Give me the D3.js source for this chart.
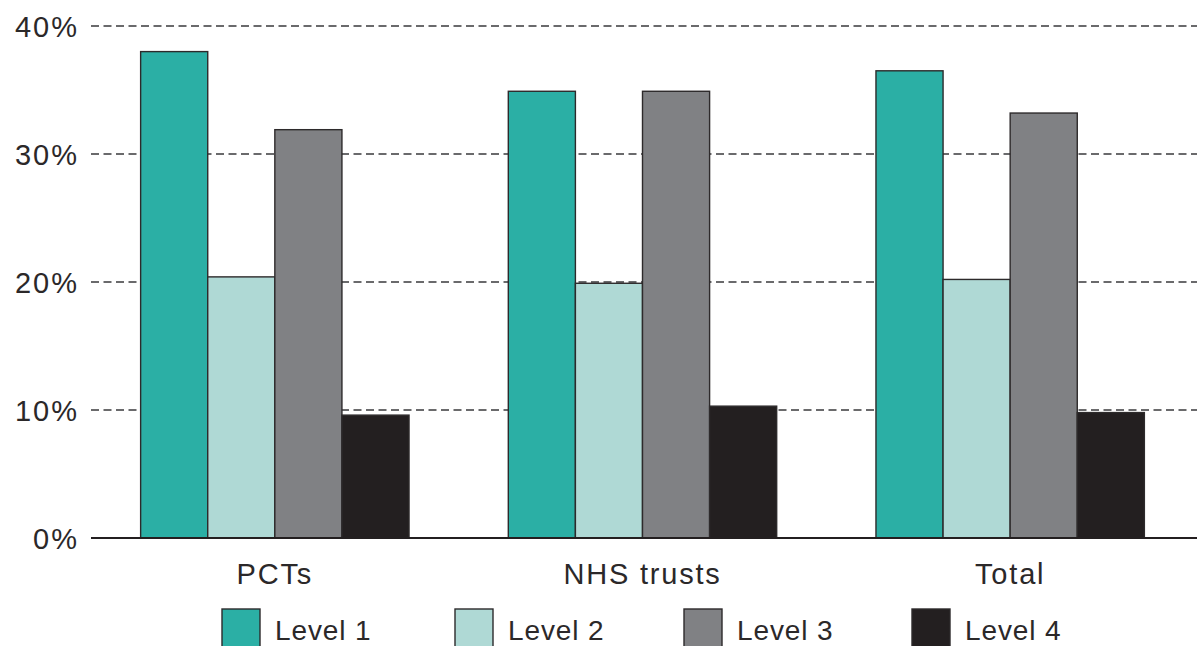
<!DOCTYPE html>
<html>
<head>
<meta charset="utf-8">
<script src="https://cdn.jsdelivr.net/npm/d3@7"></script>
<style>
  html, body { margin: 0; padding: 0; background: #ffffff; }
  svg { display: block; }
  text { font-family: "Liberation Sans", Arial, Helvetica, sans-serif; fill: #2b2829; }
</style>
</head>
<body>
<svg id="chart" width="1202" height="646"></svg>
<script>
// Share of staff by level, per organisation type (percent)
const categories = ["PCTs", "NHS trusts", "Total"];
const levels = ["Level 1", "Level 2", "Level 3", "Level 4"];
const level1 = [38.0, 34.9, 36.5];
const level2 = [20.4, 19.9, 20.2];
const level3 = [31.9, 34.9, 33.2];
const level4 = [9.6, 10.3, 9.8];
const yTicks = [0, 10, 20, 30, 40];
const colors = ["#2bafa5", "#afd9d5", "#808184", "#231f20"];

const series = [level1, level2, level3, level4];

const svg = d3.select("#chart");
const plotLeft = 91, plotRight = 1194, plotTop = 26, plotBottom = 538;

const x0 = d3.scaleBand()
  .domain(categories)
  .range([plotLeft, plotRight])
  .paddingInner(0.27)
  .paddingOuter(0.135);

const x1 = d3.scaleBand()
  .domain(levels)
  .range([0, x0.bandwidth()])
  .padding(0);

const y = d3.scaleLinear()
  .domain([0, 40])
  .range([plotBottom, plotTop]);

// Dashed horizontal gridlines
svg.append("g")
  .selectAll("line")
  .data(yTicks.filter(d => d > 0))
  .join("line")
  .attr("x1", plotLeft)
  .attr("x2", 1197)
  .attr("y1", d => y(d))
  .attr("y2", d => y(d))
  .attr("stroke", "#3a3a3c")
  .attr("stroke-width", 1.4)
  .attr("stroke-dasharray", "8,4.5");

// Y axis tick labels
const yAxis = d3.axisLeft(y)
  .tickValues(yTicks)
  .tickFormat(d => d + "%")
  .tickSize(0)
  .tickPadding(12);

const ya = svg.append("g")
  .attr("transform", `translate(${plotLeft},0)`)
  .call(yAxis);
ya.select(".domain").remove();
ya.selectAll("text")
  .attr("font-size", 29)
  .attr("letter-spacing", 2)
  .attr("font-family", "Liberation Sans, Arial, sans-serif")
  .attr("fill", "#2b2829")
  .attr("dy", "0.36em");

// Bars
const groups = svg.append("g")
  .selectAll("g")
  .data(categories)
  .join("g")
  .attr("transform", d => `translate(${x0(d)},0)`);

groups.selectAll("rect")
  .data((c, i) => levels.map((lv, j) => ({ lv, j, v: series[j][i] })))
  .join("rect")
  .attr("x", d => x1(d.lv))
  .attr("y", d => y(d.v))
  .attr("width", x1.bandwidth())
  .attr("height", d => plotBottom - y(d.v))
  .attr("fill", d => colors[d.j])
  .attr("stroke", "#2d2a2b")
  .attr("stroke-width", 1.4);

// Baseline
svg.append("line")
  .attr("x1", plotLeft)
  .attr("x2", 1197)
  .attr("y1", plotBottom)
  .attr("y2", plotBottom)
  .attr("stroke", "#231f20")
  .attr("stroke-width", 2.2);

// Category labels
const xAxis = d3.axisBottom(x0).tickSize(0).tickPadding(25);
const xa = svg.append("g")
  .attr("transform", `translate(0,${plotBottom})`)
  .call(xAxis);
xa.select(".domain").remove();
xa.selectAll("text")
  .attr("font-size", 29)
  .attr("letter-spacing", 1.8)
  .attr("font-family", "Liberation Sans, Arial, sans-serif")
  .attr("fill", "#2b2829");

// Legend
const legendX = [222, 455, 684, 912];
const legend = svg.append("g")
  .selectAll("g")
  .data(levels)
  .join("g")
  .attr("transform", (d, i) => `translate(${legendX[i]},609)`);

legend.append("rect")
  .attr("width", 38)
  .attr("height", 40)
  .attr("fill", (d, i) => colors[i])
  .attr("stroke", "#2d2a2b")
  .attr("stroke-width", 1.4);

legend.append("text")
  .attr("x", 53)
  .attr("y", 31)
  .attr("font-size", 28)
  .attr("letter-spacing", 0.9)
  .text(d => d);
</script>
</body>
</html>
